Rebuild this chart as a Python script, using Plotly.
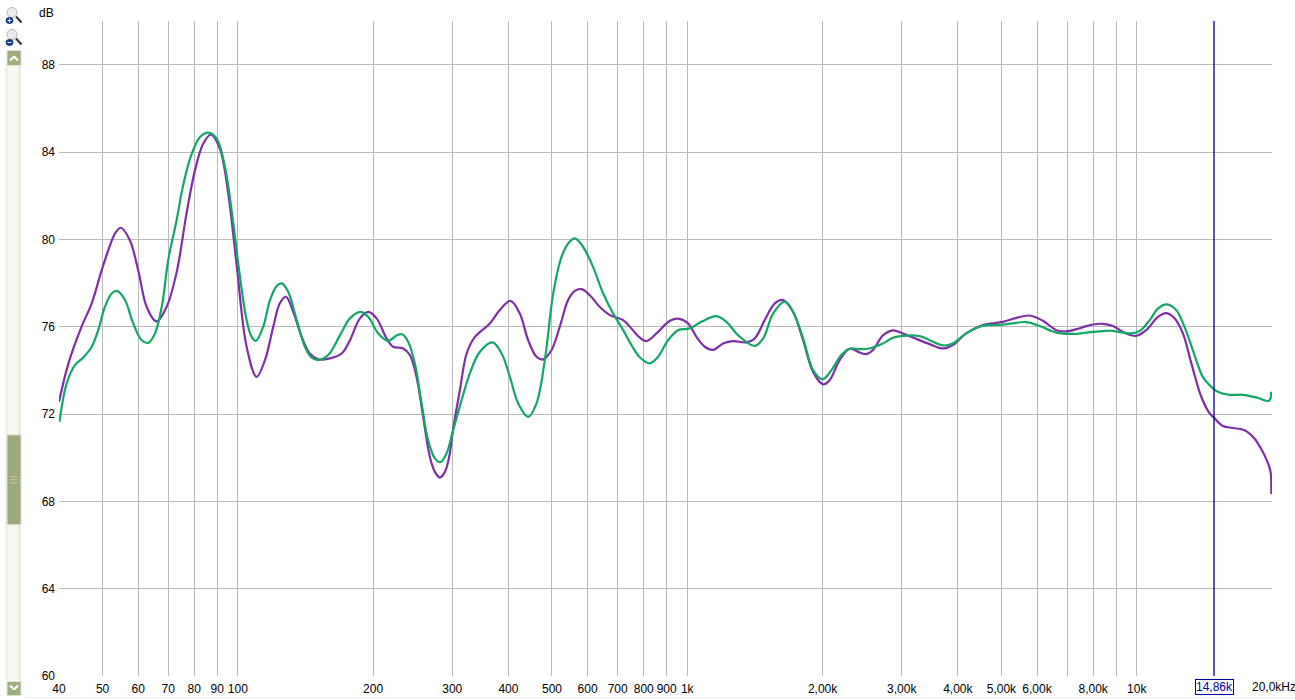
import math
import plotly.graph_objects as go

purple_freq = [40,42,44.9,47.3,49.8,51.9,53.4,54.9,57.5,60,62.7,65.9,69.4,73.1,76.9,80.3,83.8,87.2,91.2,95.2,99.3,104.6,110.1,114.9,119.9,124,127.9,132.8,138.7,144.6,150.9,160.3,170.2,177.6,186.9,195,203.6,214.3,221.6,233.3,241.4,249.8,258.4,267.4,274.4,281.6,288.9,295.3,301.4,312,322.9,336.9,363.7,382.7,404.3,424,442.5,461.9,477.9,498.9,520.5,543,562,581.8,607,639,672.6,720,751,781,811,854,915,959,1004,1048,1094,1141,1201,1264,1354,1413,1487,1566,1633,1719,1810,1905,2005,2074,2183,2298,2418,2502,2589,2725,2868,3019,3233,3462,3706,3897,4173,4545,5036,5395,5776,6185,6624,6972,7464,7993,8410,8853,9400,9980,10500,11150,11640,12140,12670,13230,13920,14530,14910,15550,16370,17380,18280,19070,19670,19870,19930]
purple_db = [72.56,74.33,76.0,77.07,78.6,79.7,80.3,80.53,79.96,78.6,76.9,76.24,76.9,78.5,81.2,83.17,84.39,84.8,84.16,82.1,78.9,75.08,73.7,74.47,76.0,77.07,77.37,76.68,75.53,74.77,74.51,74.55,74.77,75.38,76.38,76.68,76.38,75.46,75.08,75.0,74.7,73.7,71.87,70.04,69.35,69.09,69.35,70.04,71.34,73.1,74.77,75.53,76.15,76.76,77.18,76.6,75.38,74.62,74.5,74.93,76.0,77.22,77.64,77.72,77.44,76.9,76.53,76.3,75.92,75.53,75.34,75.69,76.27,76.36,76.15,75.53,75.08,74.94,75.23,75.34,75.28,75.46,76.3,77.07,77.22,76.68,75.38,73.93,73.36,73.55,74.47,74.99,74.82,74.74,74.93,75.6,75.83,75.69,75.44,75.2,75.0,75.16,75.69,76.07,76.22,76.4,76.51,76.27,75.84,75.78,75.93,76.1,76.13,76.03,75.72,75.58,75.84,76.45,76.62,76.38,75.69,74.32,72.79,72.03,71.8,71.45,71.36,71.26,70.88,70.27,69.66,69.3,68.33]

green_freq = [40.1,41.6,43.4,45.3,47.3,48.9,50.6,52.4,54,56.1,58.5,61.1,63.2,65.4,67.7,70,73.1,75.6,78.9,82.4,85.9,89.7,93.6,97.7,101.1,104.6,107.3,109.7,113.9,117.9,122,125.2,129.4,135.2,141,145.9,150.9,158.9,168.7,177.6,187.5,195,205.3,216,225.5,232,239.3,247.6,256.3,265.1,274.4,282.5,291.3,301.4,314.7,328.3,345.6,368.8,386.3,403,420.5,442.5,461.9,482,503,525,543,562,586,617,650,684,720,751,784,825,861,906,954,1013,1075,1161,1222,1297,1413,1475,1552,1648,1719,1810,1905,1999,2092,2201,2298,2418,2524,2725,2868,3019,3291,3462,3706,3897,4173,4545,5036,5678,6080,6624,7216,7993,8410,8853,9650,10160,10690,11150,11680,12240,12770,13330,14030,14530,15160,16090,17230,18450,19670,19850,19930]
green_db = [71.64,73.4,74.24,74.59,75.08,75.84,76.9,77.52,77.63,77.22,76.15,75.38,75.26,75.69,76.9,79.05,80.9,82.5,83.9,84.69,84.89,84.62,83.32,80.73,78.28,76.3,75.53,75.35,76.0,77.22,77.86,77.98,77.6,76.3,75.08,74.59,74.47,74.7,75.6,76.38,76.68,76.45,75.69,75.35,75.6,75.65,75.31,74.32,72.49,70.8,69.97,69.8,70.2,71.26,72.64,73.86,74.85,75.28,74.77,73.7,72.49,71.87,72.49,74.47,77.5,79.2,79.8,80.04,79.66,78.74,77.52,76.6,75.84,75.16,74.6,74.32,74.62,75.38,75.84,75.92,76.22,76.48,76.22,75.61,75.12,75.46,76.6,77.15,76.68,75.46,74.01,73.59,74.0,74.7,74.99,74.97,74.99,75.23,75.49,75.58,75.57,75.38,75.14,75.23,75.69,76.04,76.09,76.21,76.03,75.73,75.67,75.76,75.8,75.81,75.69,75.81,76.3,76.83,77.02,76.76,76.0,74.93,73.7,73.32,73.02,72.88,72.88,72.76,72.6,72.73,73.02]

x_tick_vals = [40,50,60,70,80,90,100,200,300,400,500,600,700,800,900,1000,2000,3000,4000,5000,6000,7000,8000,9000,10000,20000]
x_tick_text = ["40","50","60","70","80","90","100","200","300","400","500","600","700","800","900","1k","2,00k","3,00k","4,00k","5,00k","6,00k","","8,00k","","10k",""]
y_tick_vals = [60,64,68,72,76,80,84,88,90]
y_tick_text = ["60","64","68","72","76","80","84","88",""]
cursor_freq = 14860
cursor_text = "14,86k"

W, H = 1295, 700
L, R, T, B = 59, 22.5, 20.5, 23.5
pw, ph = W - L - R, H - T - B
def px(v): return (v - L) / pw
def py(v): return 1 - (v - T) / ph

GRID = "#b9b9b9"
TXT = "#000000"
FONT = "Liberation Sans"

fig = go.Figure()
fig.add_trace(go.Scatter(x=purple_freq, y=purple_db, mode="lines", name="Left",
                         line=dict(color="#7d2fa6", width=2.2, shape="spline", smoothing=1.0)))
fig.add_trace(go.Scatter(x=green_freq, y=green_db, mode="lines", name="Right",
                         line=dict(color="#12a765", width=2.2, shape="spline", smoothing=1.0)))

def rect(x0, y0, x1, y1, fill, line=None):
    return dict(type="rect", xref="paper", yref="paper", x0=px(x0), x1=px(x1), y0=py(y0), y1=py(y1),
                fillcolor=fill, line=dict(color=line or fill, width=1 if line else 0), layer="above")

def circle(x0, y0, x1, y1, fill, line, w=1):
    return dict(type="circle", xref="paper", yref="paper", x0=px(x0), x1=px(x1), y0=py(y0), y1=py(y1),
                fillcolor=fill, line=dict(color=line, width=w), layer="above")

def seg(x0, y0, x1, y1, color, w=1):
    return dict(type="line", xref="paper", yref="paper", x0=px(x0), x1=px(x1), y0=py(y0), y1=py(y1),
                line=dict(color=color, width=w), layer="above")

shapes = [dict(type="line", x0=cursor_freq, x1=cursor_freq, yref="paper", y0=0, y1=1,
               line=dict(color="#000090", width=1.3), layer="above")]
# scrollbar track
shapes += [rect(5, 65, 8, 681, "#f0f0e6"), rect(8, 65, 18, 681, "#f7f7f0"), rect(18, 65, 21, 681, "#ecece2")]
# scrollbar buttons and thumb
shapes += [rect(7, 50, 21, 65, "#9dae7e", "#dfe3cf"), rect(7, 682, 21, 696, "#9dae7e", "#dfe3cf"),
           rect(7, 435, 21, 525, "#9aa97a", "#dfe3cf")]
for yy in (477, 480, 483):
    shapes.append(seg(10, yy, 17, yy, "#c6cfaf"))
shapes += [seg(10, 60, 14, 56, "white", 2), seg(14, 56, 18, 60, "white", 2),
           seg(10, 686, 14, 690, "white", 2), seg(14, 690, 18, 686, "white", 2)]
# zoom buttons
for top, sign in ((7, "+"), (29, "-")):
    shapes += [circle(7, top, 17, top + 10, "#ededed", "#b5b5b5"),
               seg(16, top + 9, 21.5, top + 15, "#333333", 2),
               circle(6, top + 10, 13, top + 16, "#123a80", "#123a80"),
               seg(7.5, top + 13, 11.5, top + 13, "white", 1)]
    if sign == "+":
        shapes.append(seg(9.5, top + 11, 9.5, top + 15, "white", 1))
# bottom edge
shapes.append(seg(25, 698, 1295, 698, "#eeeeee", 1))

fig.update_layout(
    width=W, height=H, autosize=False, showlegend=False,
    margin=dict(l=L, r=R, t=T, b=B, pad=0),
    paper_bgcolor="white", plot_bgcolor="white",
    font=dict(family=FONT, size=12, color=TXT),
    shapes=shapes,
    annotations=[
        dict(text="dB", xref="paper", yref="paper", x=px(56), y=py(12), xanchor="right", yanchor="middle",
             showarrow=False, font=dict(family=FONT, size=12, color=TXT)),
        dict(text="20,0kHz", xref="paper", yref="paper", x=px(1274.5), y=py(688), xanchor="center", yanchor="middle",
             showarrow=False, font=dict(family=FONT, size=12, color=TXT)),
        dict(text=cursor_text, x=math.log10(cursor_freq), xref="x", yref="paper", y=py(688), xanchor="center", yanchor="middle",
             showarrow=False, font=dict(family=FONT, size=12, color="#0000a0"),
             bordercolor="#0000a0", borderwidth=1, borderpad=0, bgcolor="white"),
    ],
    xaxis=dict(type="log", range=[1.60206, 4.30103], tickmode="array", tickvals=x_tick_vals, ticktext=x_tick_text,
               showgrid=True, gridcolor=GRID, gridwidth=1, ticks="", zeroline=False, showline=False,
               ticklabelstandoff=4,
               tickfont=dict(family=FONT, size=12, color=TXT), tickangle=0, automargin=False),
    yaxis=dict(range=[60, 90], tickmode="array", tickvals=y_tick_vals, ticktext=y_tick_text,
               showgrid=True, gridcolor=GRID, gridwidth=1, ticks="", zeroline=False, showline=False,
               ticklabelstandoff=3,
               tickfont=dict(family=FONT, size=12, color=TXT), automargin=False),
)
fig.write_html("out.html", config=dict(displayModeBar=False),
               post_script="document.body.style.margin='0';document.documentElement.style.overflow='hidden';")
